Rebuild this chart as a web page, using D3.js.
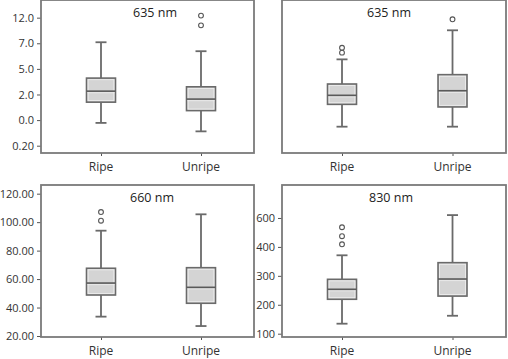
<!DOCTYPE html>
<html><head><meta charset="utf-8">
<script src="https://cdn.jsdelivr.net/npm/d3@7"></script>
<style>
html,body{margin:0;padding:0;background:#fff;}
svg{display:block;font-family:"Open Sans",sans-serif;}
</style></head>
<body><svg id="chart" width="508" height="359"></svg>
<script>
// ---- data ----
const categories = ["Ripe", "Unripe"];
const titles = ["635 nm", "635 nm", "660 nm", "830 nm"];

// five-number summaries: [whisker low, Q1, median, Q3, whisker high]
// panel 1 values are in tick-slot units (its axis labels are not linear)
const p1Ripe = [0.89, 1.70, 2.13, 2.64, 4.04];
const p1Unripe = [0.56, 1.37, 1.82, 2.30, 3.69];
const p1RipeOutliers = [];
const p1UnripeOutliers = [4.70, 5.08];
const p1TickValues = [0, 1, 2, 3, 4, 5];
const p1TickLabels = ["0.20", "0.0", "2.0", "5.0", "7.0", "12.0"];

// panel 2 has no axis labels (relative units)
const p2Ripe = [1.72, 3.18, 3.77, 4.51, 6.12];
const p2Unripe = [1.72, 3.01, 4.07, 5.12, 8.02];
const p2RipeOutliers = [6.56, 6.88];
const p2UnripeOutliers = [8.74];

const p3Ripe = [33.6, 48.8, 57.2, 67.6, 94.0];
const p3Unripe = [27.0, 43.0, 54.2, 68.0, 105.5];
const p3RipeOutliers = [101.0, 107.1];
const p3UnripeOutliers = [];
const p3TickValues = [20, 40, 60, 80, 100, 120];
const p3TickLabels = ["20.00", "40.00", "60.00", "80.00", "100.00", "120.00"];

const p4Ripe = [134.6, 219, 253.5, 288, 371];
const p4Unripe = [162, 230, 289, 345.5, 510];
const p4RipeOutliers = [409, 437, 468];
const p4UnripeOutliers = [];
const p4TickValues = [100, 200, 300, 400, 500];
const p4TickLabels = ["100", "200", "300", "400", "600"];

// ---- layout ----
const panels = [
  {title: titles[0], box: [p1Ripe, p1Unripe], out: [p1RipeOutliers, p1UnripeOutliers],
   ticks: p1TickValues, labels: p1TickLabels, yDomain: [-0.285, 5.69], xDomain: [0.4, 2.53],
   x0: 41, x1: 254, y0: 0, y1: 153, titleX: 155, titleY: 16.5, labelY: 170.5},
  {title: titles[1], box: [p2Ripe, p2Unripe], out: [p2RipeOutliers, p2UnripeOutliers],
   ticks: null, labels: null, yDomain: [0, 10], xDomain: [0.457, 2.484],
   x0: 282, x1: 506, y0: 0, y1: 153, titleX: 389, titleY: 16.5, labelY: 170.5},
  {title: titles[2], box: [p3Ripe, p3Unripe], out: [p3RipeOutliers, p3UnripeOutliers],
   ticks: p3TickValues, labels: p3TickLabels, yDomain: [19.3, 126.1], xDomain: [0.4, 2.53],
   x0: 41, x1: 254, y0: 185, y1: 337, titleX: 152, titleY: 201.5, labelY: 355},
  {title: titles[3], box: [p4Ripe, p4Unripe], out: [p4RipeOutliers, p4UnripeOutliers],
   ticks: p4TickValues, labels: p4TickLabels, yDomain: [88.6, 614], xDomain: [0.457, 2.484],
   x0: 282, x1: 506, y0: 185, y1: 337, titleX: 391, titleY: 201.5, labelY: 355}
];

const svg = d3.select("#chart");
const frameColor = "#7a7a7a";
const lineColor = "#6a6a6a";
const boxW = 29, capW = 11;

panels.forEach(p => {
  const g = svg.append("g");
  const y = d3.scaleLinear().domain(p.yDomain).range([p.y1, p.y0]);
  const x = d3.scaleLinear().domain(p.xDomain).range([p.x0, p.x1]);

  // y axis
  if (p.ticks) {
    const ax = g.append("g").attr("transform", `translate(${p.x0},0)`)
      .call(d3.axisLeft(y).tickValues(p.ticks).tickSize(4).tickPadding(3)
        .tickFormat((d, i) => p.labels[i]));
    ax.select(".domain").remove();
    ax.selectAll(".tick line").attr("stroke", "#555").attr("stroke-width", 1);
    ax.selectAll(".tick text").attr("fill", "#333").style("font-size", "11px")
      .style("font-family", "'Open Sans',sans-serif");
  }
  // x axis
  const xa = g.append("g").attr("transform", `translate(0,${p.y1})`)
    .call(d3.axisBottom(x).tickValues([1, 2]).tickSize(3).tickFormat(() => ""));
  xa.select(".domain").remove();
  xa.selectAll(".tick line").attr("stroke", "#555");
  categories.forEach((c, i) => {
    g.append("text").attr("x", x(i + 1)).attr("y", p.labelY)
      .attr("text-anchor", "middle").attr("fill", "#333")
      .style("font-size", "12px").text(c);
  });

  // frame
  g.append("rect").attr("x", p.x0).attr("y", p.y0)
    .attr("width", p.x1 - p.x0).attr("height", p.y1 - p.y0)
    .attr("fill", "none").attr("stroke", frameColor).attr("stroke-width", 1.8);

  // title
  g.append("text").attr("x", p.titleX).attr("y", p.titleY)
    .attr("text-anchor", "middle").attr("fill", "#222")
    .style("font-size", "12.5px").text(p.title);

  // boxes
  p.box.forEach((s, i) => {
    const cx = x(i + 1);
    const [lo, q1, med, q3, hi] = s;
    g.append("line").attr("x1", cx).attr("x2", cx).attr("y1", y(hi)).attr("y2", y(q3))
      .attr("stroke", lineColor).attr("stroke-width", 1.8);
    g.append("line").attr("x1", cx).attr("x2", cx).attr("y1", y(q1)).attr("y2", y(lo))
      .attr("stroke", lineColor).attr("stroke-width", 1.8);
    [lo, hi].forEach(v => {
      g.append("line").attr("x1", cx - capW / 2).attr("x2", cx + capW / 2)
        .attr("y1", y(v)).attr("y2", y(v))
        .attr("stroke", lineColor).attr("stroke-width", 1.8);
    });
    g.append("rect").attr("x", cx - boxW / 2).attr("y", y(q3))
      .attr("width", boxW).attr("height", y(q1) - y(q3))
      .attr("fill", "#d4d4d4").attr("stroke", lineColor).attr("stroke-width", 1.6);
    g.append("rect").attr("x", cx - boxW / 2 + 1.6).attr("y", y(q3) + 1.6)
      .attr("width", boxW - 3.2).attr("height", Math.max(0, y(q1) - y(q3) - 3.2))
      .attr("fill", "none").attr("stroke", "#efefef").attr("stroke-width", 0.8);
    g.append("line").attr("x1", cx - boxW / 2 + 1).attr("x2", cx + boxW / 2 - 1)
      .attr("y1", y(med) + 1.6).attr("y2", y(med) + 1.6)
      .attr("stroke", "#efefef").attr("stroke-width", 0.8);
    g.append("line").attr("x1", cx - boxW / 2).attr("x2", cx + boxW / 2)
      .attr("y1", y(med)).attr("y2", y(med))
      .attr("stroke", "#5a5a5a").attr("stroke-width", 1.6);
    p.out[i].forEach(v => {
      g.append("circle").attr("cx", cx).attr("cy", y(v)).attr("r", 2.4)
        .attr("fill", "#fff").attr("stroke", "#555").attr("stroke-width", 1.1);
    });
  });
});
</script></body></html>
